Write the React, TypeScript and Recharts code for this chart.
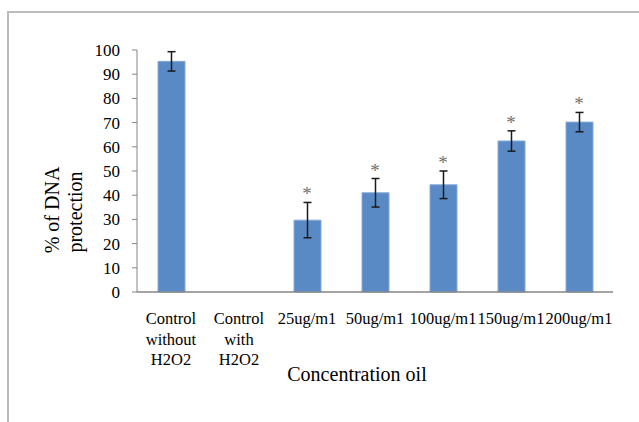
import React from 'react';
import { ComposedChart, Bar, ErrorBar, Scatter, XAxis, YAxis } from 'recharts';

// categories, values
const categories = [
  'Control\nwithout\nH2O2',
  'Control\nwith\nH2O2',
  '25ug/m1',
  '50ug/m1',
  '100ug/m1',
  '150ug/m1',
  '200ug/m1',
];
const protection = [95.3, 0, 29.7, 41, 44.3, 62.4, 70.2];
const errors = [4, null, 7.3, 5.9, 5.7, 4.2, 4];
const significant = [false, false, true, true, true, true, true];
const yTicks = [0, 10, 20, 30, 40, 50, 60, 70, 80, 90, 100];

const data = categories.map((name, i) => ({
  name,
  value: protection[i],
  err: errors[i],
  star: significant[i] ? protection[i] + (errors[i] ?? 0) : null,
}));

const FONT = '"Liberation Serif", "Times New Roman", serif';
const AXIS = '#868686';

const CategoryTick = (props: any) => {
  const { x, y, payload } = props;
  const lines = String(payload.value).split('\n');
  return (
    <text x={x} y={y} textAnchor="middle" style={{ fontFamily: FONT, fontSize: 16.5, fill: '#000' }}>
      {lines.map((l, i) => (
        <tspan key={i} x={x} dy={i === 0 ? 32 : 20.5}>
          {l}
        </tspan>
      ))}
    </text>
  );
};

const ValueTick = (props: any) => {
  const { x, y, payload } = props;
  return (
    <text x={x} y={y} dy={6} textAnchor="end" style={{ fontFamily: FONT, fontSize: 17, fill: '#000' }}>
      {payload.value}
    </text>
  );
};

const StarShape = (props: any) => {
  const { cx, cy } = props;
  if (cx == null || cy == null || isNaN(cy)) return null;
  return (
    <text x={cx} y={cy - 2} textAnchor="middle" style={{ fontFamily: FONT, fontSize: 19, fill: '#707070' }}>
      *
    </text>
  );
};

const YTitle = () => (
  <g style={{ fontFamily: FONT, fontSize: 20, fill: '#000' }}>
    <text transform="translate(59,210) rotate(-90)" textAnchor="middle">% of DNA</text>
    <text transform="translate(82,212) rotate(-90)" textAnchor="middle">protection</text>
  </g>
);

const XTitle = () => (
  <text x={357} y={381} textAnchor="middle" style={{ fontFamily: FONT, fontSize: 20, fill: '#000' }}>
    Concentration oil
  </text>
);

export default function App() {
  return (
    <div style={{ position: 'absolute', left: 0, top: 0, width: 639, height: 422, background: '#fff', overflow: 'hidden' }}>
      <div
        style={{
          position: 'absolute',
          left: 7,
          top: 11,
          width: 700,
          height: 500,
          borderLeft: '2px solid #bcbcbc',
          borderTop: '2px solid #bcbcbc',
        }}
      />
      <div style={{ position: 'absolute', left: 0, top: 0 }}>
        <ComposedChart width={639} height={422} data={data} margin={{ top: 50, right: 26, bottom: 30, left: 0 }}>
          <XAxis
            dataKey="name"
            interval={0}
            tickLine={false}
            tickSize={0}
            tickMargin={0}
            height={100}
            axisLine={{ stroke: AXIS, strokeWidth: 1.5 }}
            tick={<CategoryTick />}
            label={<XTitle />}
          />
          <YAxis
            width={137}
            domain={[0, 100]}
            ticks={yTicks}
            interval={0}
            tickSize={5}
            tickMargin={12}
            axisLine={{ stroke: AXIS }}
            tickLine={{ stroke: AXIS }}
            tick={<ValueTick />}
            label={<YTitle />}
          />
          <Bar dataKey="value" barSize={27} fill="#5a8ac6" stroke="#86a9d8" strokeWidth={1} isAnimationActive={false}>
            <ErrorBar dataKey="err" width={4} stroke="#1a1a1a" strokeWidth={1.5} direction="y" />
          </Bar>
          <Scatter dataKey="star" shape={<StarShape />} isAnimationActive={false} />
        </ComposedChart>
      </div>
    </div>
  );
}
